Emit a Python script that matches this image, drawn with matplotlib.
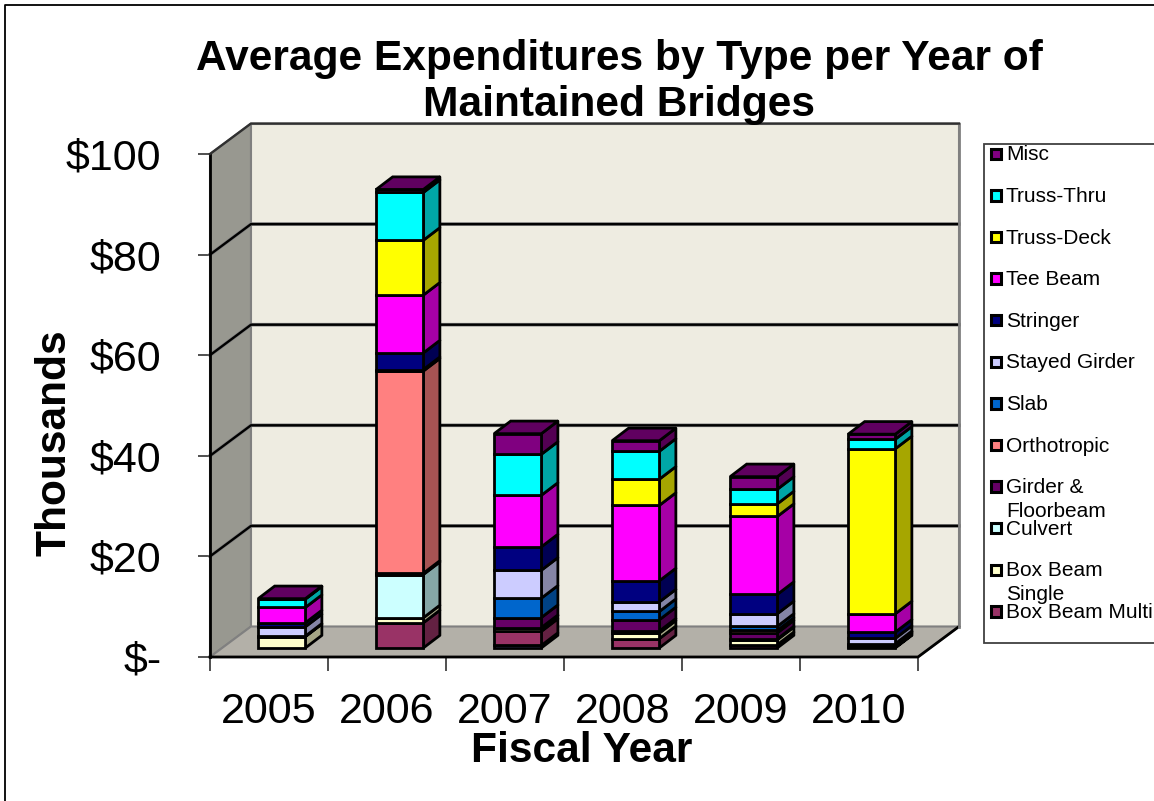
import matplotlib
matplotlib.use('Agg')
import matplotlib.pyplot as plt
from matplotlib.patches import Polygon, Rectangle

plt.rcParams['font.family'] = ['Liberation Sans', 'DejaVu Sans']

# fiscal years on the x axis
years = ['2005', '2006', '2007', '2008', '2009', '2010']

# average expenditure per bridge type, in thousands of dollars
arch = [0.0, 0.0, 0.5, 0.0, 0.0, 0.1]
box_multi = [0.0, 5.0, 2.8, 1.85, 0.65, 0.3]
box_single = [2.25, 1.0, 0.65, 1.1, 1.0, 0.25]
culvert = [0.1, 8.6, 0.1, 0.4, 0.15, 0.1]
girder = [0.0, 0.25, 2.0, 2.25, 1.2, 0.1]
orthotropic = [0.0, 40.2, 0.0, 0.0, 0.5, 0.0]
slab = [0.0, 0.0, 3.85, 1.65, 0.8, 0.0]
stayed = [1.85, 0.3, 5.55, 1.9, 2.5, 1.05]
stringer = [0.8, 3.3, 4.65, 4.2, 3.85, 1.25]
tee = [3.05, 11.5, 10.25, 15.0, 15.5, 3.65]
truss_deck = [0.0, 10.9, 0.0, 5.2, 2.5, 32.8]
truss_thru = [1.65, 9.5, 8.15, 5.55, 2.9, 1.9]
misc = [0.1, 0.6, 4.1, 2.1, 2.5, 1.0]

series = [arch, box_multi, box_single, culvert, girder, orthotropic, slab,
          stayed, stringer, tee, truss_deck, truss_thru, misc]
colors = ['#9999FF', '#993366', '#FFFFCC', '#CCFFFF', '#660066', '#FF8080', '#0066CC',
          '#CCCCFF', '#000080', '#FF00FF', '#FFFF00', '#00FFFF', '#800080']

# legend runs top down, the first series has no entry
legend_names = ['Misc', 'Truss-Thru', 'Truss-Deck', 'Tee Beam', 'Stringer', 'Stayed Girder',
                'Slab', 'Orthotropic', 'Girder &\nFloorbeam', 'Culvert', 'Box Beam\nSingle',
                'Box Beam Multi']
legend_colors = colors[:0:-1]

y_ticks = [0, 20, 40, 60, 80, 100]
y_labels = ['$-', '$20', '$40', '$60', '$80', '$100']

W, H = 1154, 801
fig = plt.figure(figsize=(W / 100, H / 100), dpi=100)

# axes rectangle is the front plane of the box
ax = fig.add_axes([210 / W, 1 - 657 / H, 708 / W, 503 / H])
ax.set_xlim(0, 6)
ax.set_ylim(0, 100)
ax.patch.set_visible(False)
for s in ax.spines.values():
    s.set_visible(False)

# 3d look: depth of the box and of one bar, in data units
box_dx, box_dy = 41 / 118, 30.5 / 5.03
bar_w = 0.40
bar_x0, bar_y0 = 0.108, 1.8
bar_dx, bar_dy = 0.14, 2.5


def darker(c, f):
    r, g, b = matplotlib.colors.to_rgb(c)
    return (r * f, g * f, b * f)


# walls and floor
ax.add_patch(Polygon([(0, 0), (box_dx, box_dy), (box_dx, 100 + box_dy), (0, 100)],
                     fc='#989890', ec='#808080', lw=1.5, clip_on=False, zorder=1))
ax.add_patch(Rectangle((box_dx, box_dy), 6, 100, fc='#EEECE1', ec='#808080', lw=1.5,
                       clip_on=False, zorder=1))
ax.add_patch(Polygon([(0, 0), (box_dx, box_dy), (6 + box_dx, box_dy), (6, 0)],
                     fc='#B3B0A8', ec='#808080', lw=1.5, clip_on=False, zorder=1))

# gridlines run along the side wall and the back wall
for v in y_ticks[1:-1]:
    ax.plot([0, box_dx, 6 + box_dx], [v, v + box_dy, v + box_dy], color='#808080', lw=2.6,
            clip_on=False, zorder=2)
    ax.plot([0, box_dx, 6 + box_dx], [v, v + box_dy, v + box_dy], color='black', lw=1.7,
            clip_on=False, zorder=2)
ax.plot([0, 0], [0, 100], color='black', lw=2, clip_on=False, zorder=2)
ax.plot([0, 6, 6 + box_dx], [0, 0, box_dy], color='black', lw=2, clip_on=False, zorder=2)
ax.plot([6 + box_dx, 6 + box_dx], [box_dy, 100 + box_dy], color='#808080', lw=2,
        clip_on=False, zorder=2)
ax.plot([0, box_dx, 6 + box_dx], [100, 100 + box_dy, 100 + box_dy], color='#303030', lw=1.7,
        clip_on=False, zorder=2)

# stacked bars, bottom segment first so the upper ones overlap it
for i in range(len(years)):
    x0 = i + 0.5 - bar_w / 2 + bar_x0
    x1 = x0 + bar_w
    base = bar_y0
    for vals, c in zip(series, colors):
        h = vals[i]
        if h <= 0:
            continue
        ax.add_patch(Polygon([(x1, base), (x1 + bar_dx, base + bar_dy),
                              (x1 + bar_dx, base + h + bar_dy), (x1, base + h)],
                             fc=darker(c, 0.65), ec='black', lw=2, joinstyle='round',
                             clip_on=False, zorder=3))
        ax.bar(x0, h, bottom=base, width=bar_w, align='edge', color=c, edgecolor='black',
               linewidth=2, clip_on=False, zorder=4)
        base += h
    # lid takes the colour of the top series
    top_c = [c for vals, c in zip(series, colors) if vals[i] > 0][-1]
    ax.add_patch(Polygon([(x0, base), (x1, base), (x1 + bar_dx, base + bar_dy),
                          (x0 + bar_dx, base + bar_dy)],
                         fc=darker(top_c, 0.75), ec='black', lw=2, clip_on=False, zorder=5))

# axes ticks and labels
ax.set_xticks(range(7))
ax.set_xticklabels([])
ax.set_xticks([i + 0.5 for i in range(6)], minor=True)
ax.set_xticklabels(years, minor=True, fontsize=31)
ax.tick_params(axis='x', which='major', length=10, width=1.1, color='#202020')
ax.tick_params(axis='x', which='minor', length=0, pad=25)
ax.set_yticks(y_ticks)
ax.set_yticklabels(y_labels, fontsize=31, va='center_baseline')
ax.tick_params(axis='y', length=9, width=1.1, color='#202020', pad=26)

fig.text(582 / W, 1 - 751 / H, 'Fiscal Year', fontsize=30.6, fontweight='bold',
         ha='center', va='center')
fig.text(55 / W, 1 - 443 / H, 'Thousands', fontsize=30.6, fontweight='bold', rotation=90,
         ha='center', va='center')
fig.text(619 / W, 1 - 82 / H, 'Average Expenditures by Type per Year of\nMaintained Bridges',
         fontsize=30.6, fontweight='bold', ha='center', va='center', linespacing=1.21)

# legend box is laid out by hand since entries overlap
overlay = fig.add_axes([0, 0, 1, 1])
overlay.set_xlim(0, W)
overlay.set_ylim(H, 0)
overlay.axis('off')
overlay.add_patch(Rectangle((984, 144), 172, 499, fc='white', ec='#404040', lw=1.3))
step = 41.6
for k, (name, c) in enumerate(zip(legend_names, legend_colors)):
    y = 153.5 + k * step
    overlay.add_patch(Rectangle((990.5, y - 5), 10.5, 10.5, fc=c, ec='black', lw=2.2))
    overlay.text(1006, y - 8, name, fontsize=15, ha='left', va='top', linespacing=1.3)

# frame around the chart area
overlay.plot([5, 5, 1154], [801, 5, 5], color='black', lw=1.3)

fig.savefig('out.png', dpi=100)
